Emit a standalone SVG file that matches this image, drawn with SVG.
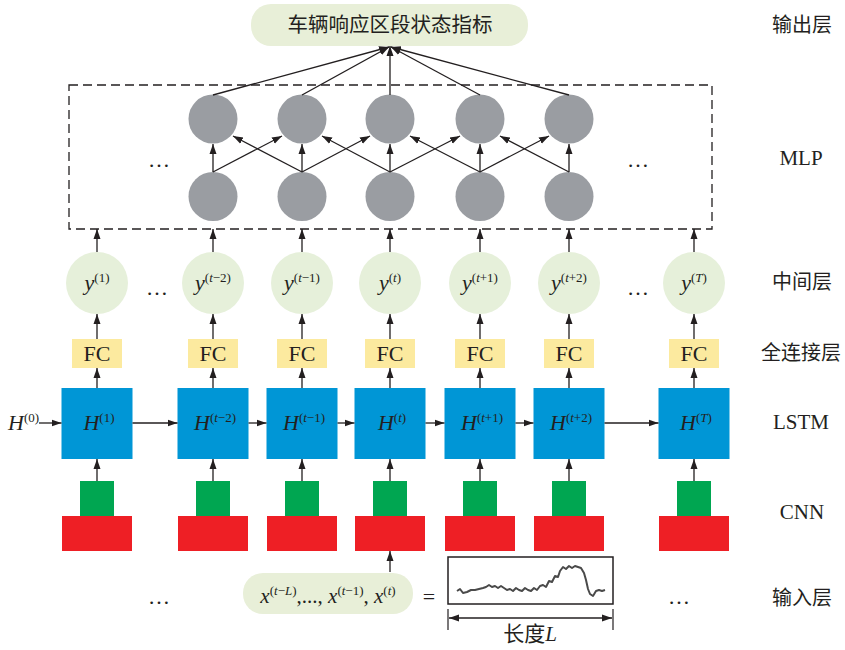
<svg xmlns="http://www.w3.org/2000/svg" width="845" height="650" viewBox="0 0 845 650">
<defs>
<marker id="ah" viewBox="0 0 10 10" refX="10" refY="5" markerWidth="10" markerHeight="10" markerUnits="userSpaceOnUse" orient="auto-start-reverse"><path d="M0,1.5 L10,5 L0,8.5 z" fill="#231f20"/></marker>
<style>
.c{stroke:#231f20;stroke-width:1.3;fill:none;marker-end:url(#ah)}
.lstm{fill:#0096d6}
.fc{fill:#fcea9f}
.g{fill:#00a651}
.r{fill:#ee1f25}
.y{fill:#e6f0da}
.n{fill:#9a9da2}
.t{font-family:"Liberation Serif",serif;fill:#231f20}
.cjk{font-family:"Noto Sans CJK SC",sans-serif;fill:#231f20}
.i{font-style:italic}
.s{font-size:13px}
</style>
</defs>
<rect width="845" height="650" fill="#fff"/>

<g id="output">
<rect x="251" y="4" width="277" height="42" rx="20" fill="#e8efd8"/>
<text x="390" y="32" text-anchor="middle" class="cjk" font-size="20.5">车辆响应区段状态指标</text>
</g>

<g id="mlp">
<rect x="69" y="85" width="643" height="144" fill="none" stroke="#231f20" stroke-width="1.3" stroke-dasharray="9 5"/>
<circle cx="213" cy="119" r="24.5" class="n"/>
<circle cx="302" cy="119" r="24.5" class="n"/>
<circle cx="390" cy="119" r="24.5" class="n"/>
<circle cx="480" cy="119" r="24.5" class="n"/>
<circle cx="569" cy="119" r="24.5" class="n"/>
<circle cx="213" cy="196.5" r="24.5" class="n"/>
<circle cx="302" cy="196.5" r="24.5" class="n"/>
<circle cx="390" cy="196.5" r="24.5" class="n"/>
<circle cx="480" cy="196.5" r="24.5" class="n"/>
<circle cx="569" cy="196.5" r="24.5" class="n"/>
<text x="159" y="167" text-anchor="middle" class="t" font-size="22">…</text>
<text x="638" y="167" text-anchor="middle" class="t" font-size="22">…</text>
</g>

<g id="mid-layer" class="t">
<circle cx="97" cy="283" r="31" class="y"/>
<circle cx="213" cy="283" r="31" class="y"/>
<circle cx="302" cy="283" r="31" class="y"/>
<circle cx="390" cy="283" r="31" class="y"/>
<circle cx="480" cy="283" r="31" class="y"/>
<circle cx="569" cy="283" r="31" class="y"/>
<circle cx="694" cy="283" r="31" class="y"/>
<text x="97" y="290" text-anchor="middle" font-size="22"><tspan class="i">y</tspan><tspan class="s" dy="-8">(1)</tspan></text>
<text x="213" y="290" text-anchor="middle" font-size="22"><tspan class="i">y</tspan><tspan class="s" dy="-8">(</tspan><tspan class="s i">t</tspan><tspan class="s">−2)</tspan></text>
<text x="302" y="290" text-anchor="middle" font-size="22"><tspan class="i">y</tspan><tspan class="s" dy="-8">(</tspan><tspan class="s i">t</tspan><tspan class="s">−1)</tspan></text>
<text x="390" y="290" text-anchor="middle" font-size="22"><tspan class="i">y</tspan><tspan class="s" dy="-8">(</tspan><tspan class="s i">t</tspan><tspan class="s">)</tspan></text>
<text x="480" y="290" text-anchor="middle" font-size="22"><tspan class="i">y</tspan><tspan class="s" dy="-8">(</tspan><tspan class="s i">t</tspan><tspan class="s">+1)</tspan></text>
<text x="569" y="290" text-anchor="middle" font-size="22"><tspan class="i">y</tspan><tspan class="s" dy="-8">(</tspan><tspan class="s i">t</tspan><tspan class="s">+2)</tspan></text>
<text x="694" y="290" text-anchor="middle" font-size="22"><tspan class="i">y</tspan><tspan class="s" dy="-8">(</tspan><tspan class="s i">T</tspan><tspan class="s">)</tspan></text>
<text x="157" y="295" text-anchor="middle" font-size="22">…</text>
<text x="638" y="295" text-anchor="middle" font-size="22">…</text>
</g>

<g id="fc-layer" class="t">
<rect x="72" y="339" width="50" height="29" class="fc"/>
<rect x="188" y="339" width="50" height="29" class="fc"/>
<rect x="277" y="339" width="50" height="29" class="fc"/>
<rect x="365" y="339" width="50" height="29" class="fc"/>
<rect x="455" y="339" width="50" height="29" class="fc"/>
<rect x="544" y="339" width="50" height="29" class="fc"/>
<rect x="669" y="339" width="50" height="29" class="fc"/>
<text y="361" text-anchor="middle" font-size="22"><tspan x="97">FC</tspan><tspan x="213">FC</tspan><tspan x="302">FC</tspan><tspan x="390">FC</tspan><tspan x="480">FC</tspan><tspan x="569">FC</tspan><tspan x="694">FC</tspan></text>
</g>

<g id="lstm-layer" class="t">
<rect x="61.5" y="388" width="71" height="71" class="lstm"/>
<rect x="177.5" y="388" width="71" height="71" class="lstm"/>
<rect x="266.5" y="388" width="71" height="71" class="lstm"/>
<rect x="354.5" y="388" width="71" height="71" class="lstm"/>
<rect x="444.5" y="388" width="71" height="71" class="lstm"/>
<rect x="533.5" y="388" width="71" height="71" class="lstm"/>
<rect x="658.5" y="388" width="71" height="71" class="lstm"/>
<text x="8" y="430" font-size="22"><tspan class="i">H</tspan><tspan class="s" dy="-8">(0)</tspan></text>
<text x="99" y="430" text-anchor="middle" font-size="22"><tspan class="i">H</tspan><tspan class="s" dy="-8">(1)</tspan></text>
<text x="215" y="430" text-anchor="middle" font-size="22"><tspan class="i">H</tspan><tspan class="s" dy="-8">(</tspan><tspan class="s i">t</tspan><tspan class="s">−2)</tspan></text>
<text x="304" y="430" text-anchor="middle" font-size="22"><tspan class="i">H</tspan><tspan class="s" dy="-8">(</tspan><tspan class="s i">t</tspan><tspan class="s">−1)</tspan></text>
<text x="392" y="430" text-anchor="middle" font-size="22"><tspan class="i">H</tspan><tspan class="s" dy="-8">(</tspan><tspan class="s i">t</tspan><tspan class="s">)</tspan></text>
<text x="482" y="430" text-anchor="middle" font-size="22"><tspan class="i">H</tspan><tspan class="s" dy="-8">(</tspan><tspan class="s i">t</tspan><tspan class="s">+1)</tspan></text>
<text x="571" y="430" text-anchor="middle" font-size="22"><tspan class="i">H</tspan><tspan class="s" dy="-8">(</tspan><tspan class="s i">t</tspan><tspan class="s">+2)</tspan></text>
<text x="696" y="430" text-anchor="middle" font-size="22"><tspan class="i">H</tspan><tspan class="s" dy="-8">(</tspan><tspan class="s i">T</tspan><tspan class="s">)</tspan></text>
</g>

<g id="cnn-layer">
<rect x="80" y="481" width="34" height="35" class="g"/>
<rect x="196" y="481" width="34" height="35" class="g"/>
<rect x="285" y="481" width="34" height="35" class="g"/>
<rect x="373" y="481" width="34" height="35" class="g"/>
<rect x="463" y="481" width="34" height="35" class="g"/>
<rect x="552" y="481" width="34" height="35" class="g"/>
<rect x="677" y="481" width="34" height="35" class="g"/>
<rect x="62" y="516" width="70" height="35" class="r"/>
<rect x="178" y="516" width="70" height="35" class="r"/>
<rect x="267" y="516" width="70" height="35" class="r"/>
<rect x="355" y="516" width="70" height="35" class="r"/>
<rect x="445" y="516" width="70" height="35" class="r"/>
<rect x="534" y="516" width="70" height="35" class="r"/>
<rect x="659" y="516" width="70" height="35" class="r"/>
</g>

<g id="input">
<rect x="243" y="573" width="170" height="41" rx="20" fill="#e8efd8"/>
<text x="328" y="603" text-anchor="middle" class="t" font-size="21"><tspan class="i">x</tspan><tspan class="s" dy="-8">(</tspan><tspan class="s i">t</tspan><tspan class="s">−</tspan><tspan class="s i">L</tspan><tspan class="s">)</tspan><tspan dy="8">,..., </tspan><tspan class="i">x</tspan><tspan class="s" dy="-8">(</tspan><tspan class="s i">t</tspan><tspan class="s">−1)</tspan><tspan dy="8">, </tspan><tspan class="i">x</tspan><tspan class="s" dy="-8">(</tspan><tspan class="s i">t</tspan><tspan class="s">)</tspan></text>
<text x="429" y="604" text-anchor="middle" class="t" font-size="22">=</text>
<rect x="448" y="557" width="165" height="47" fill="#fff" stroke="#231f20" stroke-width="1.5"/>
<polyline fill="none" stroke="#4a4a4a" stroke-width="2" stroke-linejoin="round" points="457,591 460,589 463,593 467,592 471,590 475,590 479,589 483,588 486,587 489,585 492,587 495,586 498,588 501,586 504,588 507,590 510,589 513,591 516,588 519,590 522,591 525,588 528,590 531,591 534,588 537,590 540,586 543,585 546,587 549,581 552,582 555,576 558,577 560,571 563,567 566,569 569,566 572,568 575,566 578,567 581,568 584,573 586,580 588,589 590,594 593,596 596,591 599,590 602,591 605,590"/>
<line x1="448" y1="609" x2="448" y2="630" stroke="#231f20" stroke-width="1.2"/>
<line x1="613" y1="609" x2="613" y2="630" stroke="#231f20" stroke-width="1.2"/>
<line x1="449" y1="618" x2="612" y2="618" stroke="#231f20" stroke-width="1.3" marker-start="url(#ah)" marker-end="url(#ah)"/>
<text x="530" y="641" text-anchor="middle" font-size="21"><tspan class="cjk">长度</tspan><tspan class="t i">L</tspan></text>
<text x="159" y="604" text-anchor="middle" class="t" font-size="22">…</text>
<text x="679" y="604" text-anchor="middle" class="t" font-size="22">…</text>
</g>

<g id="labels">
<text x="802" y="32" text-anchor="middle" class="cjk" font-size="20">输出层</text>
<text x="801" y="165" text-anchor="middle" class="t" font-size="21">MLP</text>
<text x="802" y="289" text-anchor="middle" class="cjk" font-size="20">中间层</text>
<text x="801" y="360" text-anchor="middle" class="cjk" font-size="20">全连接层</text>
<text x="801" y="429" text-anchor="middle" class="t" font-size="21">LSTM</text>
<text x="802" y="519" text-anchor="middle" class="t" font-size="21">CNN</text>
<text x="802" y="605" text-anchor="middle" class="cjk" font-size="20">输入层</text>
</g>

<g id="connectors">
<line class="c" x1="213" y1="95" x2="389" y2="47"/>
<line class="c" x1="302" y1="95" x2="389" y2="47"/>
<line class="c" x1="390" y1="95" x2="390" y2="46"/>
<line class="c" x1="480" y1="95" x2="391" y2="47"/>
<line class="c" x1="569" y1="95" x2="391" y2="47"/>

<line class="c" x1="213" y1="172" x2="213" y2="144"/>
<line class="c" x1="302" y1="172" x2="302" y2="144"/>
<line class="c" x1="390" y1="172" x2="390" y2="144"/>
<line class="c" x1="480" y1="172" x2="480" y2="144"/>
<line class="c" x1="569" y1="172" x2="569" y2="144"/>
<line class="c" x1="213" y1="172" x2="282" y2="136"/>
<line class="c" x1="302" y1="172" x2="370" y2="136"/>
<line class="c" x1="390" y1="172" x2="460" y2="136"/>
<line class="c" x1="480" y1="172" x2="549" y2="136"/>
<line class="c" x1="302" y1="172" x2="233" y2="136"/>
<line class="c" x1="390" y1="172" x2="322" y2="136"/>
<line class="c" x1="480" y1="172" x2="410" y2="136"/>
<line class="c" x1="569" y1="172" x2="500" y2="136"/>

<line class="c" x1="97" y1="252" x2="97" y2="229"/>
<line class="c" x1="213" y1="252" x2="213" y2="229"/>
<line class="c" x1="302" y1="252" x2="302" y2="229"/>
<line class="c" x1="390" y1="252" x2="390" y2="229"/>
<line class="c" x1="480" y1="252" x2="480" y2="229"/>
<line class="c" x1="569" y1="252" x2="569" y2="229"/>
<line class="c" x1="694" y1="252" x2="694" y2="229"/>

<line class="c" x1="97" y1="339" x2="97" y2="314"/>
<line class="c" x1="213" y1="339" x2="213" y2="314"/>
<line class="c" x1="302" y1="339" x2="302" y2="314"/>
<line class="c" x1="390" y1="339" x2="390" y2="314"/>
<line class="c" x1="480" y1="339" x2="480" y2="314"/>
<line class="c" x1="569" y1="339" x2="569" y2="314"/>
<line class="c" x1="694" y1="339" x2="694" y2="314"/>

<line class="c" x1="97" y1="388" x2="97" y2="368"/>
<line class="c" x1="213" y1="388" x2="213" y2="368"/>
<line class="c" x1="302" y1="388" x2="302" y2="368"/>
<line class="c" x1="390" y1="388" x2="390" y2="368"/>
<line class="c" x1="480" y1="388" x2="480" y2="368"/>
<line class="c" x1="569" y1="388" x2="569" y2="368"/>
<line class="c" x1="694" y1="388" x2="694" y2="368"/>

<line class="c" x1="97" y1="481" x2="97" y2="459"/>
<line class="c" x1="213" y1="481" x2="213" y2="459"/>
<line class="c" x1="302" y1="481" x2="302" y2="459"/>
<line class="c" x1="390" y1="481" x2="390" y2="459"/>
<line class="c" x1="480" y1="481" x2="480" y2="459"/>
<line class="c" x1="569" y1="481" x2="569" y2="459"/>
<line class="c" x1="694" y1="481" x2="694" y2="459"/>

<line class="c" x1="39" y1="423" x2="61.5" y2="423"/>
<line class="c" x1="132.5" y1="423" x2="177.5" y2="423"/>
<line class="c" x1="248.5" y1="423" x2="266.5" y2="423"/>
<line class="c" x1="337.5" y1="423" x2="354.5" y2="423"/>
<line class="c" x1="425.5" y1="423" x2="444.5" y2="423"/>
<line class="c" x1="515.5" y1="423" x2="533.5" y2="423"/>
<line class="c" x1="604.5" y1="423" x2="658.5" y2="423"/>

<line class="c" x1="390" y1="572" x2="390" y2="551"/>
</g>
</svg>
